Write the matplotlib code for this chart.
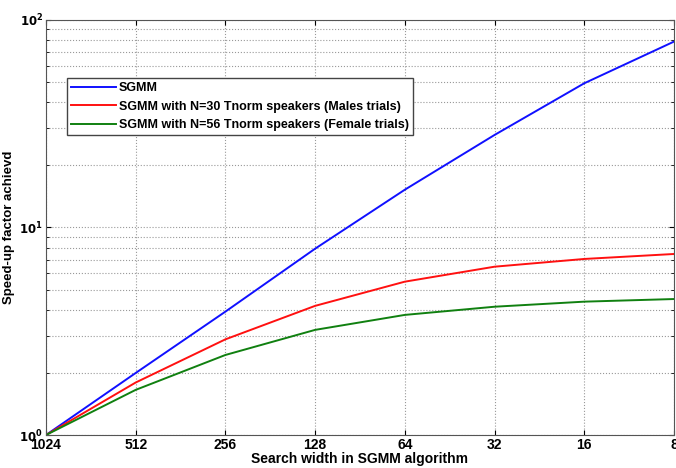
import numpy as np
import matplotlib
matplotlib.use("Agg")
import matplotlib.pyplot as plt
from matplotlib.ticker import FixedLocator, FixedFormatter, LogLocator, NullFormatter

plt.rcParams['font.family'] = ['Liberation Sans', 'DejaVu Sans']
plt.rcParams['font.weight'] = 'bold'
plt.rcParams['mathtext.default'] = 'bf'

# Dados
widths = [1024, 512, 256, 128, 64, 32, 16, 8]
sgmm = [1.0, 1.99, 3.93, 7.9, 15.2, 27.9, 49.5, 78.6]
sgmm_male = [1.0, 1.79, 2.89, 4.19, 5.48, 6.47, 7.05, 7.45]
sgmm_female = [1.0, 1.65, 2.43, 3.21, 3.79, 4.15, 4.39, 4.52]

labels = ["SGMM",
          "SGMM with N=30 Tnorm speakers (Males trials)",
          "SGMM with N=56 Tnorm speakers (Female trials)"]

fig = plt.figure(figsize=(6.76, 4.68), dpi=100)
ax = fig.add_axes([0.068, 0.0705, 0.929, 0.887])

ax.plot(widths, sgmm, color="#1010ff", lw=1.4, label=labels[0])
ax.plot(widths, sgmm_male, color="#ff1010", lw=1.4, label=labels[1])
ax.plot(widths, sgmm_female, color="#108010", lw=1.4, label=labels[2])

ax.set_xscale('log', base=2)
ax.set_yscale('log')
ax.set_xlim(1024, 8)
ax.set_ylim(1, 100)

ax.xaxis.set_major_locator(FixedLocator(widths))
ax.xaxis.set_major_formatter(FixedFormatter([str(w) for w in widths]))
ax.xaxis.set_minor_locator(FixedLocator([]))
ax.yaxis.set_major_locator(FixedLocator([1, 10, 100]))
ax.yaxis.set_major_formatter(FixedFormatter([r'$10^0$', r'$10^1$', r'$10^2$']))
ax.yaxis.set_minor_locator(LogLocator(base=10, subs=np.arange(2, 10)))
ax.yaxis.set_minor_formatter(NullFormatter())

ax.tick_params(which='both', direction='in', top=True, right=True)
ax.tick_params(axis='x', pad=2, labelsize=10)
ax.tick_params(axis='y', pad=2, labelsize=8.5)
ax.grid(True, which='major', ls=':', color='#999999', lw=0.8)
ax.grid(True, which='minor', axis='y', ls=':', color='#999999', lw=0.8)

for s in ax.spines.values():
    s.set_color('#555555')

ax.set_xlabel("Search width in SGMM algorithm", fontsize=10, fontweight='bold', labelpad=0)
ax.set_ylabel("Speed-up factor achievd", fontsize=9.5, fontweight='bold')
ax.yaxis.set_label_coords(-0.05, 0.5)

leg = ax.legend(loc='upper left', bbox_to_anchor=(0.033, 0.86), fontsize=9,
                fancybox=False, framealpha=1, edgecolor='#444444',
                handlelength=3.6, borderpad=0.35, labelspacing=0.5, handletextpad=0.2,
                borderaxespad=0)
leg.get_frame().set_linewidth(1.0)

fig.savefig("out.png", dpi=100)
